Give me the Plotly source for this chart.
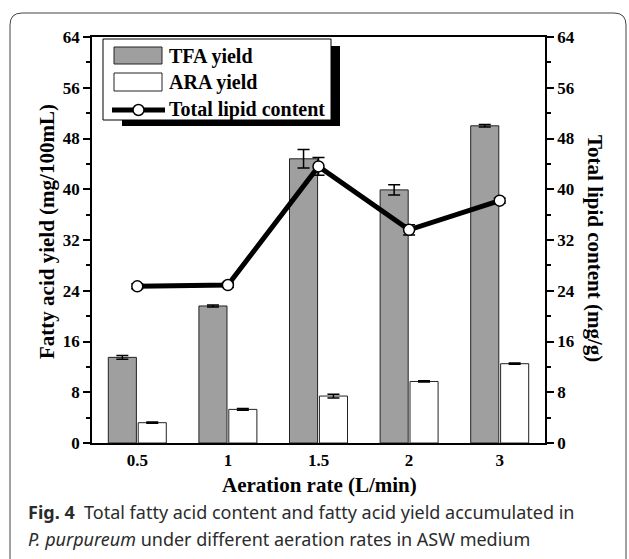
import plotly.graph_objects as go

# ---------------- data ----------------
rates = ["0.5", "1", "1.5", "2", "3"]
tfa_yield = [13.5, 21.6, 44.8, 39.9, 50.0]
tfa_err = [0.3, 0.15, 1.45, 0.8, 0.2]
ara_yield = [3.2, 5.3, 7.4, 9.7, 12.5]
ara_err = [0.1, 0.15, 0.3, 0.1, 0.1]
lipid = [24.7, 24.9, 43.6, 33.6, 38.2]
lipid_err = [0.4, 0.4, 1.4, 0.8, 0.4]
y_ticks = [0, 8, 16, 24, 32, 40, 48, 56, 64]

# ---------------- layout helpers (pixel -> paper) ----------------
W, H = 629, 559
L, R, T, B = 92, 545, 37, 443


def px(x):
    return (x - L) / (R - L)


def py(y):
    return (B - y) / (B - T)


SERIF = "Liberation Serif"
GRAY = "#9f9f9f"

fig = go.Figure()

fig.add_trace(go.Bar(
    x=rates, y=tfa_yield, name="TFA yield", offset=-0.32, width=0.31,
    marker=dict(color=GRAY, line=dict(color="#222", width=1)),
    error_y=dict(type="data", array=tfa_err, color="black", thickness=1.5, width=6),
    showlegend=False,
))
fig.add_trace(go.Bar(
    x=rates, y=ara_yield, name="ARA yield", offset=0.01, width=0.31,
    marker=dict(color="white", line=dict(color="#222", width=1)),
    error_y=dict(type="data", array=ara_err, color="black", thickness=1.5, width=6),
    showlegend=False,
))
fig.add_trace(go.Scatter(
    x=rates, y=lipid, name="Total lipid content", yaxis="y2",
    mode="lines+markers",
    line=dict(color="black", width=5),
    marker=dict(symbol="circle", size=11, color="white", line=dict(color="black", width=1.5)),
    error_y=dict(type="data", array=lipid_err, color="black", thickness=1.5, width=6),
    showlegend=False,
))

tickfont = dict(family=SERIF, size=17, color="black", weight="bold")
yax_common = dict(
    range=[0, 64], tickvals=y_ticks, ticktext=[str(v) for v in y_ticks],
    ticks="outside", ticklen=7, tickwidth=1.5, tickcolor="black",
    minor=dict(dtick=4, ticks="outside", ticklen=4, tickwidth=1.5, tickcolor="black", showgrid=False),
    showline=True, linecolor="black", linewidth=1.5,
    showgrid=False, zeroline=False, tickfont=tickfont, fixedrange=True,
)

shapes = []
# outer figure frame (rounded top corners)
x0, x1, y0, yb, r = 10, 626, 13, 580, 12
shapes.append(dict(
    type="path", xref="paper", yref="paper",
    path=(f"M {px(x0)},{py(yb)} L {px(x0)},{py(y0 + r)} "
          f"Q {px(x0)},{py(y0)} {px(x0 + r)},{py(y0)} "
          f"L {px(x1 - r)},{py(y0)} Q {px(x1)},{py(y0)} {px(x1)},{py(y0 + r)} "
          f"L {px(x1)},{py(yb)}"),
    line=dict(color="#444", width=1), layer="below",
))

# legend shadow + box
shapes.append(dict(type="rect", xref="paper", yref="paper",
                   x0=px(122), x1=px(340), y0=py(46), y1=py(126),
                   fillcolor="black", line=dict(width=0)))
shapes.append(dict(type="rect", xref="paper", yref="paper",
                   x0=px(103), x1=px(331), y0=py(39), y1=py(120),
                   fillcolor="white", line=dict(color="black", width=1)))
# legend swatches
shapes.append(dict(type="rect", xref="paper", yref="paper",
                   x0=px(114), x1=px(162), y0=py(47), y1=py(64),
                   fillcolor=GRAY, line=dict(color="#222", width=1)))
shapes.append(dict(type="rect", xref="paper", yref="paper",
                   x0=px(114), x1=px(162), y0=py(73), y1=py(91),
                   fillcolor="white", line=dict(color="#222", width=1)))
shapes.append(dict(type="line", xref="paper", yref="paper",
                   x0=px(112), x1=px(165), y0=py(110), y1=py(110),
                   line=dict(color="black", width=5)))
shapes.append(dict(type="circle", xref="paper", yref="paper",
                   x0=px(133), x1=px(144), y0=py(104.5), y1=py(115.5),
                   fillcolor="white", line=dict(color="black", width=1.5)))

legfont = dict(family=SERIF, size=20, color="black", weight="bold")
annotations = [
    dict(text="TFA yield", x=px(167), y=py(56), xanchor="left", yanchor="middle", font=legfont),
    dict(text="ARA yield", x=px(167), y=py(82), xanchor="left", yanchor="middle", font=legfont),
    dict(text="Total lipid content", x=px(167), y=py(110), xanchor="left", yanchor="middle", font=legfont),
    dict(text="Fatty acid yield (mg/100mL)", x=px(47), y=py(232), textangle=-90,
         xanchor="center", yanchor="middle",
         font=dict(family=SERIF, size=21, color="black", weight="bold")),
    dict(text="Total lipid content (mg/g)", x=px(595), y=py(248), textangle=90,
         xanchor="center", yanchor="middle",
         font=dict(family=SERIF, size=21, color="black", weight="bold")),
    dict(text="Aeration rate (L/min)", x=px(319), y=py(485),
         xanchor="center", yanchor="middle",
         font=dict(family=SERIF, size=21, color="black", weight="bold")),
    dict(text="<b>Fig. 4</b>  Total fatty acid content and fatty acid yield accumulated in",
         x=px(26), y=py(512), xanchor="left", yanchor="middle",
         font=dict(family="Noto Sans", size=18, color="#2b2b2b")),
    dict(text="<i>P. purpureum</i> under different aeration rates in ASW medium",
         x=px(26), y=py(539), xanchor="left", yanchor="middle",
         font=dict(family="Noto Sans", size=18, color="#2b2b2b")),
]
for a in annotations:
    a.update(xref="paper", yref="paper", showarrow=False)

fig.update_layout(
    width=W, height=H,
    margin=dict(l=L, r=W - R, t=T, b=H - B, pad=0),
    paper_bgcolor="white", plot_bgcolor="white",
    barmode="overlay",
    xaxis=dict(type="category", range=[-0.5, 4.5], showline=True, linecolor="black",
               linewidth=1.5, mirror=True, ticks="", showgrid=False, zeroline=False,
               tickfont=tickfont, ticklabelstandoff=1, fixedrange=True),
    yaxis=yax_common,
    yaxis2=dict(overlaying="y", side="right", **yax_common),
    shapes=shapes,
    annotations=annotations,
    showlegend=False,
)

fig.write_html("out.html")
